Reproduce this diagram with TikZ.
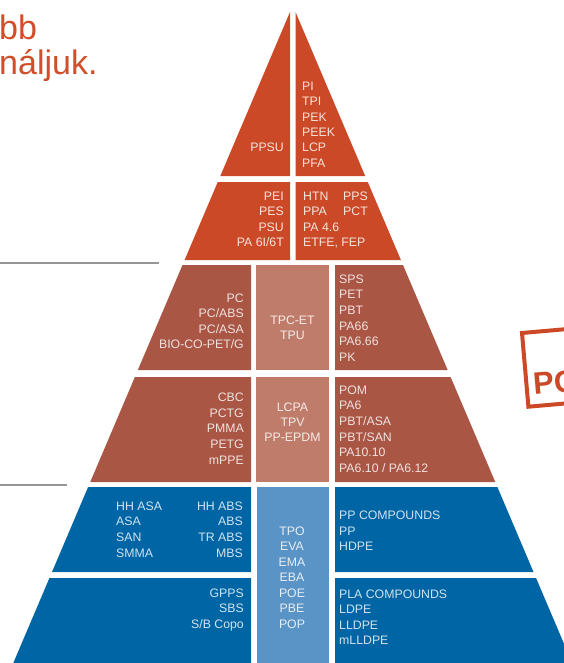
\documentclass[tikz,border=0pt]{standalone}
\usepackage{fontspec}
\setmainfont{Liberation Sans}
\definecolor{orT}{RGB}{203,73,38}
\definecolor{brD}{RGB}{170,86,69}
\definecolor{brL}{RGB}{192,124,106}
\definecolor{blD}{RGB}{0,101,164}
\definecolor{blL}{RGB}{90,148,198}
\definecolor{hdr}{RGB}{208,78,42}
\definecolor{rul}{RGB}{150,150,150}
\begin{document}
\begin{tikzpicture}[x=1pt,y=-1pt,
  lbl/.style={inner sep=0pt, font=\fontsize{12.3}{15}\selectfont},
  tl/.style={lbl, anchor=base west},
  tr/.style={lbl, anchor=base east},
  tc/.style={lbl, anchor=base},
  onO/.style={text=white!85!orT},
  onB/.style={text=white!82!brD},
  onBL/.style={text=white!85!brL},
  onBl/.style={text=white!82!blD},
  onBlL/.style={text=white!85!blL},
  hdrtext/.style={inner sep=0pt, anchor=base west, text=hdr, font=\fontsize{34}{38}\selectfont},
  rulefine/.style={draw=rul, line width=1.5pt},
  stampbox/.style={draw=orT, line width=4pt, line join=miter}]
\useasboundingbox (0,0) rectangle (564,663);

% header text (cut at the left edge)
\node[hdrtext] (h1) at (-1,40) {bb};
\node[hdrtext] (h2) at (-1,74.5) {náljuk.};

% grey rules
\draw[rulefine] (0,263) -- (159,263);
\draw[rulefine] (0,485) -- (67,485);

% band 1
\fill[orT] (290,12) -- (290,176) -- (220.3,176) -- cycle;
\fill[orT] (295.5,12) -- (365.2,176) -- (295.5,176) -- cycle;
% band 2
\fill[orT] (217.75,182) -- (290,182) -- (290,260) -- (184.6,260) -- cycle;
\fill[orT] (295.5,182) -- (367.75,182) -- (400.9,260) -- (295.5,260) -- cycle;
% band 3
\fill[brD] (182.5,265) -- (251,265) -- (251,370) -- (137.85,370) -- cycle;
\fill[brL] (256,265) rectangle (329,370);
\fill[brD] (335,265) -- (403,265) -- (447.65,370) -- (335,370) -- cycle;
% band 4
\fill[brD] (134.9,377) -- (251,377) -- (251,482) -- (90.25,482) -- cycle;
\fill[brL] (256,377) rectangle (329,482);
\fill[brD] (335,377) -- (450.6,377) -- (495.25,482) -- (335,482) -- cycle;
% band 5
\fill[blD] (88.1,487) -- (251,487) -- (251,572) -- (52,572) -- cycle;
\fill[blD] (335,487) -- (497.4,487) -- (533.5,572) -- (335,572) -- cycle;
% band 6
\fill[blD] (49.45,578) -- (251,578) -- (251,663) -- (13.3,663) -- cycle;
\fill[blD] (335,578) -- (536.05,578) -- (572.2,663) -- (335,663) -- cycle;
% middle blue column
\fill[blL] (257,487) rectangle (329,663);

% band 1 texts
\node[tr,onO] (b1l) at (284,151.9) {PPSU};
\foreach \t [count=\i] in {PI,TPI,PEK,PEEK,LCP,PFA}
  \node[tl,onO] (b1r\i) at (302,{90.3+15.4*(\i-1)}) {\t};

% band 2 texts
\foreach \t [count=\i] in {PEI,PES,PSU,PA 6I/6T}
  \node[tr,onO] (b2l\i) at (284,{200.3+15.5*(\i-1)}) {\t};
\foreach \t [count=\i] in {HTN,PPA,PA 4.6,{ETFE, FEP}}
  \node[tl,onO] (b2r\i) at (303,{200.3+15.5*(\i-1)}) {\t};
\foreach \t [count=\i] in {PPS,PCT}
  \node[tl,onO] (b2s\i) at (343,{200.3+15.5*(\i-1)}) {\t};

% band 3 texts
\foreach \t [count=\i] in {PC,PC/ABS,PC/ASA,BIO-CO-PET/G}
  \node[tr,onB] (b3l\i) at (244,{302.3+15.5*(\i-1)}) {\t};
\foreach \t [count=\i] in {TPC-ET,TPU}
  \node[tc,onBL] (b3m\i) at (292.5,{324.3+15.2*(\i-1)}) {\t};
\foreach \t [count=\i] in {SPS,PET,PBT,PA66,PA6.66,PK}
  \node[tl,onB] (b3r\i) at (339,{283.3+15.6*(\i-1)}) {\t};

% band 4 texts
\foreach \t [count=\i] in {CBC,PCTG,PMMA,PETG,mPPE}
  \node[tr,onB] (b4l\i) at (244,{401.3+15.7*(\i-1)}) {\t};
\foreach \t [count=\i] in {LCPA,TPV,PP-EPDM}
  \node[tc,onBL] (b4m\i) at (292.5,{411.3+15.2*(\i-1)}) {\t};
\foreach \t [count=\i] in {POM,PA6,PBT/ASA,PBT/SAN,PA10.10,PA6.10 / PA6.12}
  \node[tl,onB] (b4r\i) at (339,{394.3+15.6*(\i-1)}) {\t};

% band 5 texts
\foreach \t [count=\i] in {HH ASA,ASA,SAN,SMMA}
  \node[tl,onBl] (b5a\i) at (116,{510.3+15.6*(\i-1)}) {\t};
\foreach \t [count=\i] in {HH ABS,ABS,TR ABS,MBS}
  \node[tr,onBl] (b5b\i) at (243,{510.3+15.6*(\i-1)}) {\t};
\foreach \t [count=\i] in {PP COMPOUNDS,PP,HDPE}
  \node[tl,onBl] (b5r\i) at (339,{519.3+15.8*(\i-1)}) {\t};

% middle column texts
\foreach \t [count=\i] in {TPO,EVA,EMA,EBA,POE,PBE,POP}
  \node[tc,onBlL] (mc\i) at (292,{535.3+15.5*(\i-1)}) {\t};

% band 6 texts
\foreach \t [count=\i] in {GPPS,SBS,S/B Copo}
  \node[tr,onBl] (b6l\i) at (244,{597.3+15.5*(\i-1)}) {\t};
\foreach \t [count=\i] in {PLA COMPOUNDS,LDPE,LLDPE,mLLDPE}
  \node[tl,onBl] (b6r\i) at (339,{598.3+15.4*(\i-1)}) {\t};

% stamp
\draw[stampbox] (522,333) -- (631.6,323.4) -- (638.0,397.1) -- (528.4,406.7) -- cycle;
\node[inner sep=0pt, anchor=base west, text=orT, rotate=5,
      font=\fontsize{31}{36}\selectfont\bfseries] (stamp) at (534,395) {PC};
\end{tikzpicture}
\end{document}
